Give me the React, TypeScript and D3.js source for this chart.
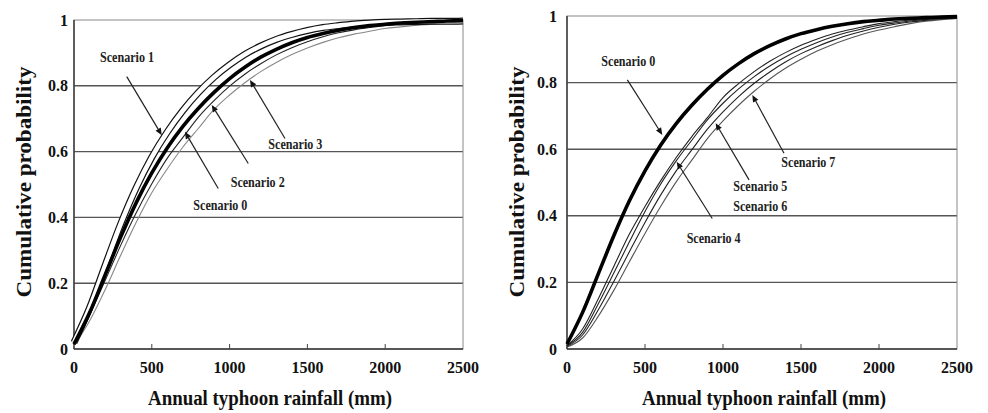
import React from 'react'
import * as d3 from 'd3'

// rainfall grid (mm) the curves were read at
const rainfall = [0, 100, 200, 300, 400, 500, 600, 700, 800, 900, 1000, 1100, 1200, 1300, 1400, 1500, 1600, 1700, 1800, 1900, 2000, 2100, 2200, 2300, 2400, 2500]

// cumulative probability
const scenario0 = [0.015, 0.11, 0.225, 0.34, 0.445, 0.535, 0.612, 0.677, 0.732, 0.78, 0.822, 0.857, 0.887, 0.911, 0.931, 0.947, 0.959, 0.969, 0.977, 0.983, 0.987, 0.991, 0.993, 0.995, 0.997, 0.998]
const scenario1 = [0.02, 0.125, 0.254, 0.38, 0.49, 0.583, 0.66, 0.725, 0.78, 0.826, 0.864, 0.896, 0.921, 0.941, 0.956, 0.968, 0.977, 0.983, 0.988, 0.991, 0.993, 0.994, 0.995, 0.996, 0.996, 0.997]
const scenario2 = [0.012, 0.103, 0.208, 0.315, 0.414, 0.502, 0.58, 0.643, 0.705, 0.755, 0.799, 0.836, 0.867, 0.894, 0.916, 0.934, 0.949, 0.961, 0.97, 0.977, 0.983, 0.987, 0.99, 0.993, 0.995, 0.996]
const scenario3 = [0.01, 0.085, 0.18, 0.285, 0.385, 0.475, 0.548, 0.614, 0.671, 0.728, 0.772, 0.81, 0.843, 0.871, 0.895, 0.915, 0.932, 0.946, 0.957, 0.966, 0.974, 0.979, 0.984, 0.987, 0.99, 0.992]
const scenario4 = [0.01, 0.06, 0.15, 0.248, 0.345, 0.428, 0.505, 0.575, 0.638, 0.695, 0.755, 0.797, 0.833, 0.864, 0.89, 0.912, 0.93, 0.946, 0.958, 0.968, 0.977, 0.983, 0.988, 0.991, 0.994, 0.996]
const scenario5 = [0.01, 0.05, 0.135, 0.228, 0.322, 0.413, 0.495, 0.565, 0.627, 0.688, 0.738, 0.781, 0.818, 0.85, 0.877, 0.9, 0.92, 0.937, 0.951, 0.962, 0.972, 0.979, 0.985, 0.99, 0.993, 0.995]
const scenario6 = [0.008, 0.042, 0.117, 0.203, 0.292, 0.38, 0.462, 0.535, 0.598, 0.66, 0.712, 0.758, 0.798, 0.832, 0.862, 0.887, 0.908, 0.926, 0.942, 0.955, 0.966, 0.975, 0.982, 0.987, 0.991, 0.994]
const scenario7 = [0.006, 0.033, 0.098, 0.176, 0.262, 0.347, 0.428, 0.502, 0.567, 0.632, 0.685, 0.732, 0.774, 0.811, 0.843, 0.87, 0.894, 0.914, 0.931, 0.946, 0.958, 0.968, 0.977, 0.984, 0.989, 0.993]

const xTicks = [0, 500, 1000, 1500, 2000, 2500]
const yTicks = [0, 0.2, 0.4, 0.6, 0.8, 1]
const yTickLabels = ['0', '0.2', '0.4', '0.6', '0.8', '1']

// arrows: tip / tail / label anchor, in data units
const leftNotes = [
  { labels: ['Scenario 1'], tip: [564, 0.65], tail: [339, 0.828], at: [167, 0.888] },
  { labels: ['Scenario 0'], tip: [713, 0.66], tail: [927, 0.488], at: [767, 0.438] },
  { labels: ['Scenario 2'], tip: [885, 0.742], tail: [1120, 0.564], at: [1007, 0.508] },
  { labels: ['Scenario 3'], tip: [1131, 0.818], tail: [1356, 0.64], at: [1249, 0.623] },
]
const rightNotes = [
  { labels: ['Scenario 0'], tip: [611, 0.643], tail: [387, 0.808], at: [220, 0.865] },
  { labels: ['Scenario 4'], tip: [703, 0.562], tail: [931, 0.392], at: [767, 0.332] },
  { labels: ['Scenario 5', 'Scenario 6'], tip: [953, 0.678], tail: [1167, 0.508], at: [1066, 0.489] },
  { labels: ['Scenario 7'], tip: [1188, 0.763], tail: [1391, 0.588], at: [1374, 0.561] },
]

const font = "'Liberation Serif', 'DejaVu Serif', serif"

const Panel = ({ box, series, notes, titleX, titleY, ySide }) => {
  const x = d3.scaleLinear().domain([0, 2500]).range([box.left, box.right])
  const y = d3.scaleLinear().domain([0, 1]).range([box.bottom, box.top])
  const line = d3.line().x((d) => x(d[0])).y((d) => y(d[1])).curve(d3.curveMonotoneX)

  return (
    <g style={{ fontFamily: font, fontWeight: 'bold' }}>
      {/* grid */}
      {yTicks.filter((t) => t > 0 && t < 1).map((t) => (
        <line key={t} x1={box.left} x2={box.right} y1={y(t)} y2={y(t)} stroke="#555" strokeWidth={1.4} />
      ))}
      <rect x={box.left} y={box.top} width={box.right - box.left} height={box.bottom - box.top} fill="none" stroke="#888" strokeWidth={1} />
      <line x1={box.left} x2={box.left} y1={box.top} y2={box.bottom} stroke="#333" strokeWidth={1.4} />
      <line x1={box.left} x2={box.right} y1={box.bottom} y2={box.bottom} stroke="#333" strokeWidth={1.4} />
      {xTicks.slice(1, -1).map((t) => (
        <line key={t} x1={x(t)} x2={x(t)} y1={box.bottom} y2={box.bottom - 5} stroke="#444" strokeWidth={1} />
      ))}

      {/* curves */}
      {series.map((s) => {
        const d = line(rainfall.map((r, i) => [r, s.values[i]]))
        return (
          <g key={s.name}>
            {s.double ? (
              <>
                <path d={d} fill="none" stroke="#111" strokeWidth={7} />
                <path d={d} fill="none" stroke="#fff" strokeWidth={4.6} />
              </>
            ) : (
              <path d={d} fill="none" stroke={s.color} strokeWidth={s.width} />
            )}
          </g>
        )
      })}

      {/* arrows */}
      {notes.map((n, i) => {
        const x2 = x(n.tip[0]), y2 = y(n.tip[1])
        const x1 = x(n.tail[0]), y1 = y(n.tail[1])
        const a = Math.atan2(y2 - y1, x2 - x1)
        const len = 7, w = 3
        const bx = x2 - len * Math.cos(a), by = y2 - len * Math.sin(a)
        const head = `${x2},${y2} ${bx + w * Math.sin(a)},${by - w * Math.cos(a)} ${bx - w * Math.sin(a)},${by + w * Math.cos(a)}`
        return (
          <g key={i}>
            <line x1={x1} y1={y1} x2={bx} y2={by} stroke="#222" strokeWidth={1.2} />
            <polygon points={head} fill="#111" />
            {n.labels.map((l, j) => (
              <text key={l} x={x(n.at[0])} y={y(n.at[1]) + j * 20} dy="0.35em" fontSize={14} fill="#222"
                textLength={54} lengthAdjust="spacingAndGlyphs">{l}</text>
            ))}
          </g>
        )
      })}

      {/* tick labels */}
      {yTicks.map((t, i) => (
        <text key={t} x={box.left - ySide} y={y(t)} dy="0.35em" textAnchor="end" fontSize={16} fill="#111">{yTickLabels[i]}</text>
      ))}
      {xTicks.map((t) => (
        <text key={t} x={x(t)} y={box.bottom + 24} textAnchor="middle" fontSize={16} fill="#111">{t}</text>
      ))}

      {/* titles */}
      <text x={titleX} y={405} textAnchor="middle" fontSize={20} fill="#111" textLength={244} lengthAdjust="spacingAndGlyphs">Annual typhoon rainfall (mm)</text>
      <text transform={`translate(${titleY}, 182) rotate(-90)`} textAnchor="middle" fontSize={21} fill="#111" textLength={231} lengthAdjust="spacingAndGlyphs">Cumulative probability</text>
    </g>
  )
}

const App = () => {
  const leftSeries = [
    { name: 'Scenario 3', values: scenario3, color: '#888', width: 1.1 },
    { name: 'Scenario 2', values: scenario2, color: '#222', width: 1.1 },
    { name: 'Scenario 1', values: scenario1, double: true },
    { name: 'Scenario 0', values: scenario0, color: '#000', width: 3.6 },
  ]
  const rightSeries = [
    { name: 'Scenario 7', values: scenario7, color: '#555', width: 1.1 },
    { name: 'Scenario 6', values: scenario6, color: '#222', width: 1.1 },
    { name: 'Scenario 5', values: scenario5, color: '#222', width: 1.1 },
    { name: 'Scenario 4', values: scenario4, color: '#222', width: 1.1 },
    { name: 'Scenario 0', values: scenario0, color: '#000', width: 3.6 },
  ]

  return (
    <svg width={988} height={413} style={{ position: 'absolute', left: 0, top: 0, background: '#fff' }}>
      <Panel box={{ left: 74, right: 463, top: 20, bottom: 349 }} series={leftSeries} notes={leftNotes} titleX={270} titleY={31} ySide={6} />
      <Panel box={{ left: 567, right: 957, top: 16, bottom: 349 }} series={rightSeries} notes={rightNotes} titleX={764} titleY={524} ySide={10} />
    </svg>
  )
}

export default App
